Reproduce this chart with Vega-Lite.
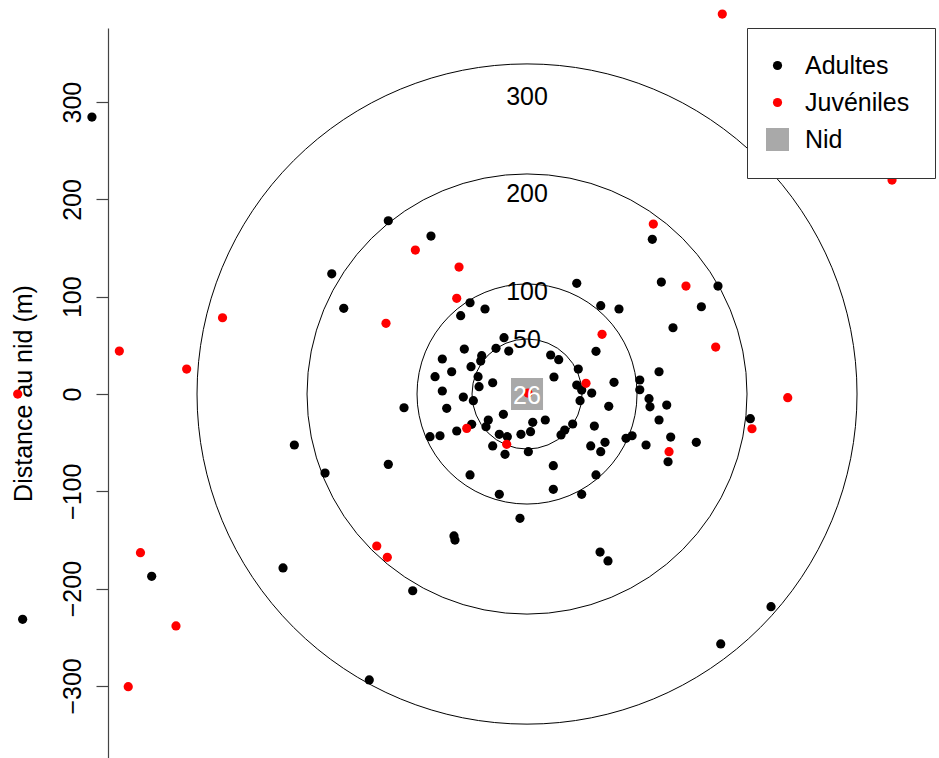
{
  "$schema": "https://vega.github.io/schema/vega-lite/v6.json",
  "width": 831,
  "height": 730,
  "autosize": {"type": "none"},
  "padding": {"left": 108, "top": 28, "right": 0, "bottom": 0},
  "background": "white",
  "config": {
    "view": {"stroke": null},
    "font": "Liberation Sans"
  },
  "datasets": {
    "rings": [
      {"r": 50, "label": "50"},
      {"r": 100, "label": "100"},
      {"r": 200, "label": "200"},
      {"r": 300, "label": "300"}
    ],
    "nid": [{"x": 0, "y": 0, "label": "26"}],
    "pts": [
      {"x": -395.5, "y": 284.7, "g": "Adultes"},
      {"x": -458.5, "y": -231.6, "g": "Adultes"},
      {"x": -341.2, "y": -187.4, "g": "Adultes"},
      {"x": -126.1, "y": 178.1, "g": "Adultes"},
      {"x": -177.5, "y": 123.6, "g": "Adultes"},
      {"x": -166.6, "y": 88.1, "g": "Adultes"},
      {"x": -87.3, "y": 162.4, "g": "Adultes"},
      {"x": 113.9, "y": 159.0, "g": "Adultes"},
      {"x": 122.1, "y": 115.1, "g": "Adultes"},
      {"x": 173.6, "y": 111.0, "g": "Adultes"},
      {"x": 83.6, "y": 87.4, "g": "Adultes"},
      {"x": 158.5, "y": 89.7, "g": "Adultes"},
      {"x": 132.7, "y": 68.1, "g": "Adultes"},
      {"x": 120.0, "y": 22.9, "g": "Adultes"},
      {"x": 102.5, "y": 14.4, "g": "Adultes"},
      {"x": 102.5, "y": 4.4, "g": "Adultes"},
      {"x": 110.9, "y": -4.8, "g": "Adultes"},
      {"x": 111.8, "y": -13.1, "g": "Adultes"},
      {"x": 127.0, "y": -11.3, "g": "Adultes"},
      {"x": 120.0, "y": -26.7, "g": "Adultes"},
      {"x": 90.0, "y": -45.5, "g": "Adultes"},
      {"x": 95.5, "y": -42.9, "g": "Adultes"},
      {"x": 130.6, "y": -44.2, "g": "Adultes"},
      {"x": 108.2, "y": -52.4, "g": "Adultes"},
      {"x": 153.9, "y": -49.6, "g": "Adultes"},
      {"x": 128.2, "y": -69.6, "g": "Adultes"},
      {"x": 203.0, "y": -25.4, "g": "Adultes"},
      {"x": 221.8, "y": -218.6, "g": "Adultes"},
      {"x": 176.1, "y": -256.9, "g": "Adultes"},
      {"x": -111.8, "y": -14.1, "g": "Adultes"},
      {"x": -211.5, "y": -52.4, "g": "Adultes"},
      {"x": -183.6, "y": -81.2, "g": "Adultes"},
      {"x": -126.1, "y": -72.3, "g": "Adultes"},
      {"x": -103.9, "y": -202.2, "g": "Adultes"},
      {"x": -221.8, "y": -178.8, "g": "Adultes"},
      {"x": -143.4, "y": -293.9, "g": "Adultes"},
      {"x": -51.8, "y": 93.8, "g": "Adultes"},
      {"x": -38.2, "y": 87.4, "g": "Adultes"},
      {"x": -60.3, "y": 80.5, "g": "Adultes"},
      {"x": -20.9, "y": 57.9, "g": "Adultes"},
      {"x": -28.2, "y": 47.0, "g": "Adultes"},
      {"x": -16.6, "y": 44.2, "g": "Adultes"},
      {"x": -57.0, "y": 46.2, "g": "Adultes"},
      {"x": -41.2, "y": 39.4, "g": "Adultes"},
      {"x": -42.1, "y": 33.9, "g": "Adultes"},
      {"x": -77.0, "y": 36.0, "g": "Adultes"},
      {"x": -50.9, "y": 28.1, "g": "Adultes"},
      {"x": -68.5, "y": 22.9, "g": "Adultes"},
      {"x": -83.6, "y": 17.8, "g": "Adultes"},
      {"x": -44.5, "y": 17.8, "g": "Adultes"},
      {"x": -43.6, "y": 7.5, "g": "Adultes"},
      {"x": -31.2, "y": 11.6, "g": "Adultes"},
      {"x": -77.0, "y": 3.1, "g": "Adultes"},
      {"x": -57.9, "y": -3.1, "g": "Adultes"},
      {"x": 45.2, "y": 113.8, "g": "Adultes"},
      {"x": 67.0, "y": 90.8, "g": "Adultes"},
      {"x": 62.7, "y": 43.9, "g": "Adultes"},
      {"x": 21.5, "y": 40.1, "g": "Adultes"},
      {"x": 28.8, "y": 35.3, "g": "Adultes"},
      {"x": 46.6, "y": 25.7, "g": "Adultes"},
      {"x": 24.5, "y": 17.5, "g": "Adultes"},
      {"x": 45.2, "y": 9.2, "g": "Adultes"},
      {"x": 49.7, "y": 4.1, "g": "Adultes"},
      {"x": 58.8, "y": 1.0, "g": "Adultes"},
      {"x": 79.1, "y": 12.0, "g": "Adultes"},
      {"x": 48.2, "y": -6.9, "g": "Adultes"},
      {"x": 74.3, "y": -12.6, "g": "Adultes"},
      {"x": 5.2, "y": -29.1, "g": "Adultes"},
      {"x": 16.6, "y": -26.7, "g": "Adultes"},
      {"x": 3.2, "y": -38.7, "g": "Adultes"},
      {"x": 41.5, "y": -30.8, "g": "Adultes"},
      {"x": 61.2, "y": -32.9, "g": "Adultes"},
      {"x": 34.3, "y": -37.0, "g": "Adultes"},
      {"x": 30.9, "y": -42.1, "g": "Adultes"},
      {"x": 57.9, "y": -53.4, "g": "Adultes"},
      {"x": 70.9, "y": -49.6, "g": "Adultes"},
      {"x": 67.0, "y": -59.3, "g": "Adultes"},
      {"x": 23.9, "y": -73.7, "g": "Adultes"},
      {"x": 62.7, "y": -83.2, "g": "Adultes"},
      {"x": 23.9, "y": -97.9, "g": "Adultes"},
      {"x": 49.7, "y": -103.1, "g": "Adultes"},
      {"x": -48.8, "y": -6.9, "g": "Adultes"},
      {"x": -73.0, "y": -14.7, "g": "Adultes"},
      {"x": -35.2, "y": -26.7, "g": "Adultes"},
      {"x": -21.5, "y": -20.9, "g": "Adultes"},
      {"x": -37.3, "y": -33.6, "g": "Adultes"},
      {"x": -50.3, "y": -31.1, "g": "Adultes"},
      {"x": -63.9, "y": -38.0, "g": "Adultes"},
      {"x": -88.2, "y": -43.9, "g": "Adultes"},
      {"x": -79.1, "y": -42.9, "g": "Adultes"},
      {"x": -25.2, "y": -41.4, "g": "Adultes"},
      {"x": -17.9, "y": -43.9, "g": "Adultes"},
      {"x": -31.2, "y": -53.4, "g": "Adultes"},
      {"x": -20.0, "y": -62.0, "g": "Adultes"},
      {"x": -5.5, "y": -41.4, "g": "Adultes"},
      {"x": 1.2, "y": -59.3, "g": "Adultes"},
      {"x": -51.8, "y": -83.2, "g": "Adultes"},
      {"x": -25.2, "y": -103.1, "g": "Adultes"},
      {"x": -6.4, "y": -127.8, "g": "Adultes"},
      {"x": -66.4, "y": -145.9, "g": "Adultes"},
      {"x": -65.5, "y": -150.1, "g": "Adultes"},
      {"x": 66.4, "y": -162.4, "g": "Adultes"},
      {"x": 73.6, "y": -171.6, "g": "Adultes"},
      {"x": 177.5, "y": 390.5, "g": "Juvéniles"},
      {"x": 331.8, "y": 219.9, "g": "Juvéniles"},
      {"x": -370.6, "y": 44.2, "g": "Juvéniles"},
      {"x": -309.4, "y": 25.7, "g": "Juvéniles"},
      {"x": -276.8, "y": 78.4, "g": "Juvéniles"},
      {"x": -463.0, "y": 0.0, "g": "Juvéniles"},
      {"x": -351.4, "y": -163.1, "g": "Juvéniles"},
      {"x": -319.1, "y": -238.4, "g": "Juvéniles"},
      {"x": -362.5, "y": -300.8, "g": "Juvéniles"},
      {"x": -101.5, "y": 148.0, "g": "Juvéniles"},
      {"x": -128.2, "y": 72.7, "g": "Juvéniles"},
      {"x": -61.8, "y": 130.5, "g": "Juvéniles"},
      {"x": -63.9, "y": 98.4, "g": "Juvéniles"},
      {"x": 114.8, "y": 174.7, "g": "Juvéniles"},
      {"x": 144.5, "y": 111.0, "g": "Juvéniles"},
      {"x": 171.5, "y": 48.3, "g": "Juvéniles"},
      {"x": 68.2, "y": 61.4, "g": "Juvéniles"},
      {"x": 53.6, "y": 11.0, "g": "Juvéniles"},
      {"x": 237.0, "y": -3.8, "g": "Juvéniles"},
      {"x": 204.5, "y": -35.7, "g": "Juvéniles"},
      {"x": 129.1, "y": -59.3, "g": "Juvéniles"},
      {"x": -136.6, "y": -156.2, "g": "Juvéniles"},
      {"x": -127.0, "y": -167.8, "g": "Juvéniles"},
      {"x": -54.8, "y": -35.3, "g": "Juvéniles"},
      {"x": -18.5, "y": -51.7, "g": "Juvéniles"},
      {"x": 0.9, "y": 1.0, "g": "Juvéniles"}
    ]
  },
  "encoding": {
    "x": {"type": "quantitative", "scale": {"domain": [-380.9, 374.5], "nice": false, "zero": false}, "axis": null},
    "y": {"type": "quantitative", "scale": {"domain": [-374.1, 376.2], "nice": false, "zero": false},
      "axis": {
        "values": [-300, -200, -100, 0, 100, 200, 300],
        "grid": false,
        "labelAngle": 270,
        "labelAlign": "center",
        "labelBaseline": "alphabetic",
        "labelPadding": 16,
        "labelFontSize": 25,
        "labelFont": "Liberation Sans",
        "labelColor": "black",
        "labelFlush": false,
        "labelOverlap": false,
        "tickSize": 12,
        "tickColor": "#444444",
        "tickWidth": 1.2,
        "domainColor": "#444444",
        "domainWidth": 1.2,
        "title": "Distance au nid (m)",
        "titleFont": "Liberation Sans",
        "titleFontSize": 25,
        "titleFontWeight": "normal",
        "titleColor": "black",
        "titlePadding": 24
      }
    }
  },
  "layer": [
    {
      "data": {"name": "rings"},
      "transform": [{"filter": "datum.r == 50"}],
      "mark": {"type": "point", "shape": "circle", "filled": false, "stroke": "black", "strokeWidth": 1, "opacity": 1, "size": 12100},
      "encoding": {"x": {"datum": 0, "type": "quantitative"}, "y": {"datum": 0, "type": "quantitative"}}
    },
    {
      "data": {"name": "rings"},
      "transform": [{"filter": "datum.r == 100"}],
      "mark": {"type": "point", "shape": "circle", "filled": false, "stroke": "black", "strokeWidth": 1, "opacity": 1, "size": 48400},
      "encoding": {"x": {"datum": 0, "type": "quantitative"}, "y": {"datum": 0, "type": "quantitative"}}
    },
    {
      "data": {"name": "rings"},
      "transform": [{"filter": "datum.r == 200"}],
      "mark": {"type": "point", "shape": "circle", "filled": false, "stroke": "black", "strokeWidth": 1, "opacity": 1, "size": 193600},
      "encoding": {"x": {"datum": 0, "type": "quantitative"}, "y": {"datum": 0, "type": "quantitative"}}
    },
    {
      "data": {"name": "rings"},
      "transform": [{"filter": "datum.r == 300"}],
      "mark": {"type": "point", "shape": "circle", "filled": false, "stroke": "black", "strokeWidth": 1, "opacity": 1, "size": 435600},
      "encoding": {"x": {"datum": 0, "type": "quantitative"}, "y": {"datum": 0, "type": "quantitative"}}
    },
    {
      "data": {"name": "rings"},
      "mark": {"type": "text", "fontSize": 25, "font": "Liberation Sans", "color": "black", "baseline": "middle", "align": "center", "dy": -5},
      "encoding": {
        "x": {"datum": 0, "type": "quantitative"},
        "y": {"field": "r", "type": "quantitative"},
        "text": {"field": "label"}
      }
    },
    {
      "data": {"name": "nid"},
      "mark": {"type": "point", "shape": "square", "filled": true, "color": "#A9A9A9", "size": 1024, "opacity": 1},
      "encoding": {
        "x": {"field": "x", "type": "quantitative"},
        "y": {"field": "y", "type": "quantitative"}
      }
    },
    {
      "data": {"name": "pts"},
      "mark": {"type": "point", "filled": true, "opacity": 1, "size": 85},
      "encoding": {
        "x": {"field": "x", "type": "quantitative"},
        "y": {"field": "y", "type": "quantitative"},
        "color": {"field": "g", "type": "nominal", "scale": {"domain": ["Adultes", "Juvéniles", "Nid"], "range": ["#000000", "#FF0000", "#A9A9A9"]},
          "legend": {
            "title": null,
            "orient": "none",
            "legendX": 639,
            "legendY": 0,
            "padding": 25,
            "strokeColor": "#333333",
            "fillColor": "white",
            "labelFontSize": 25,
            "labelFont": "Liberation Sans",
            "labelColor": "black",
            "labelOffset": 15,
            "symbolOffset": -7,
            "rowPadding": 11,
            "symbolStrokeWidth": 0,
            "symbolOpacity": 1,
            "labelExpr": "datum.label + '   '",
            "encode": {
              "symbols": {
                "update": {
                  "size": {"signal": "datum.value === 'Nid' ? 529 : 85"}
                }
              }
            }
          }
        },
        "shape": {"field": "g", "type": "nominal", "scale": {"domain": ["Adultes", "Juvéniles", "Nid"], "range": ["circle", "circle", "square"]}}
      }
    },
    {
      "data": {"name": "nid"},
      "mark": {"type": "text", "fontSize": 25, "font": "Liberation Sans", "color": "white", "baseline": "middle", "align": "center", "dy": 2},
      "encoding": {
        "x": {"field": "x", "type": "quantitative"},
        "y": {"field": "y", "type": "quantitative"},
        "text": {"field": "label"}
      }
    }
  ]
}
